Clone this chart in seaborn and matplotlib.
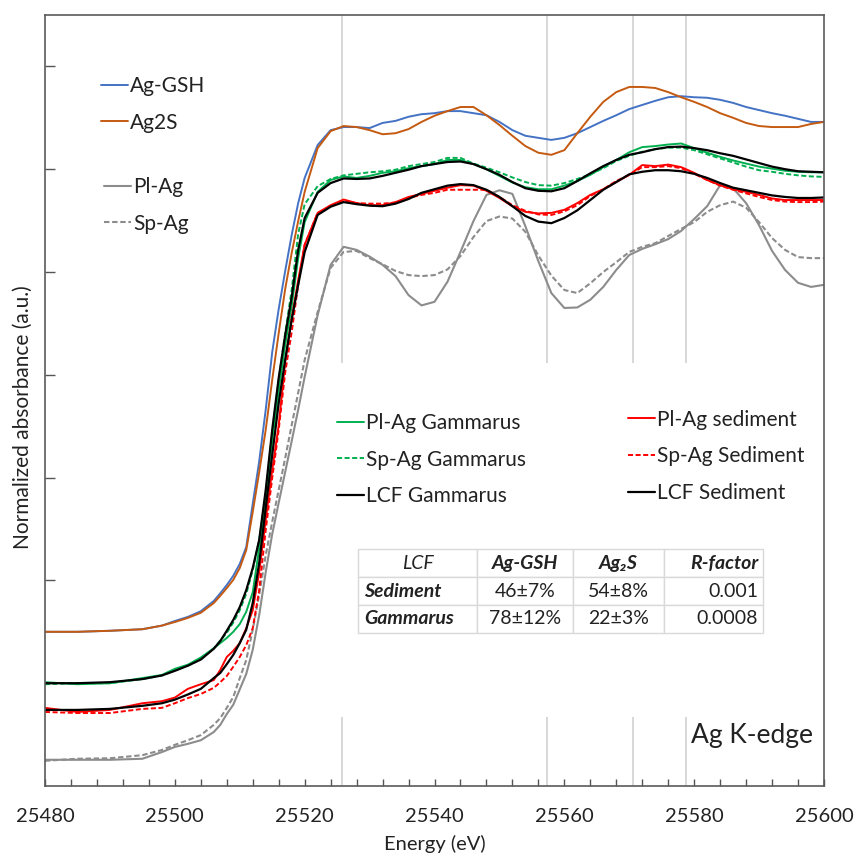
import pandas as pd
import seaborn as sns
import matplotlib.pyplot as plt
from matplotlib.lines import Line2D
from matplotlib.ticker import MultipleLocator

sns.set_style('ticks')
plt.rcParams['font.family'] = ['Lato', 'DejaVu Sans']

# energy grid (eV)
energy = [25480, 25485, 25490, 25495, 25498, 25500, 25502, 25504, 25506, 25507,
          25508, 25509, 25510, 25511,
          25512, 25513, 25514, 25515, 25516, 25517, 25518, 25519, 25520, 25522,
          25524, 25526, 25528, 25530, 25532, 25534, 25536, 25538, 25540, 25542,
          25544, 25546, 25548, 25550, 25552, 25554, 25556, 25558, 25560, 25562,
          25564, 25566, 25568, 25570, 25572, 25574, 25576, 25578, 25580, 25582,
          25584, 25586, 25588, 25590, 25592, 25594, 25596, 25598, 25600]

# references
ag_gsh = [0.300, 0.300, 0.302, 0.305, 0.312, 0.321, 0.329, 0.340, 0.360, 0.375,
          0.391, 0.409, 0.432, 0.465,
          0.549, 0.632, 0.732, 0.844, 0.928, 1.002, 1.072, 1.134, 1.183, 1.247,
          1.276, 1.282, 1.282, 1.280, 1.290, 1.294, 1.302, 1.307, 1.309, 1.313,
          1.313, 1.309, 1.305, 1.292, 1.276, 1.265, 1.261, 1.257, 1.261, 1.270,
          1.282, 1.294, 1.305, 1.317, 1.325, 1.333, 1.340, 1.342, 1.340, 1.339,
          1.335, 1.329, 1.321, 1.315, 1.309, 1.304, 1.298, 1.292, 1.292]
ag2s = [0.300, 0.300, 0.302, 0.305, 0.312, 0.319, 0.327, 0.337, 0.356, 0.370,
        0.385, 0.401, 0.424, 0.459,
        0.533, 0.611, 0.693, 0.790, 0.881, 0.967, 1.037, 1.099, 1.156, 1.241,
        1.274, 1.284, 1.282, 1.276, 1.268, 1.270, 1.278, 1.292, 1.304, 1.313,
        1.321, 1.321, 1.305, 1.286, 1.265, 1.245, 1.232, 1.228, 1.237, 1.270,
        1.302, 1.331, 1.350, 1.360, 1.360, 1.358, 1.350, 1.340, 1.331, 1.321,
        1.309, 1.300, 1.290, 1.284, 1.282, 1.282, 1.282, 1.288, 1.292]
pl_ag = [0.051, 0.051, 0.051, 0.053, 0.066, 0.076, 0.082, 0.089, 0.105, 0.119,
         0.140, 0.158, 0.188, 0.218,
         0.265, 0.333, 0.416, 0.490, 0.551, 0.611, 0.671, 0.732, 0.796, 0.916,
         1.014, 1.049, 1.043, 1.030, 1.014, 0.992, 0.955, 0.935, 0.942, 0.981,
         1.039, 1.099, 1.150, 1.159, 1.152, 1.089, 1.021, 0.959, 0.930, 0.931,
         0.946, 0.971, 1.004, 1.033, 1.045, 1.054, 1.064, 1.080, 1.103, 1.128,
         1.169, 1.163, 1.134, 1.091, 1.041, 1.004, 0.979, 0.971, 0.975]
sp_ag = [0.049, 0.053, 0.054, 0.060, 0.070, 0.080, 0.089, 0.099, 0.119, 0.132,
         0.152, 0.173, 0.210, 0.245,
         0.304, 0.372, 0.449, 0.514, 0.576, 0.638, 0.702, 0.765, 0.829, 0.922,
         1.008, 1.039, 1.041, 1.027, 1.015, 1.002, 0.994, 0.992, 0.994, 1.005,
         1.031, 1.068, 1.099, 1.108, 1.104, 1.078, 1.032, 0.993, 0.965, 0.959,
         0.978, 1.000, 1.019, 1.039, 1.049, 1.056, 1.070, 1.084, 1.097, 1.117,
         1.130, 1.137, 1.125, 1.097, 1.066, 1.043, 1.029, 1.027, 1.027]

# gammarus samples + fit
pl_ag_gam = [0.202, 0.198, 0.200, 0.210, 0.216, 0.228, 0.236, 0.250, 0.268, 0.278,
             0.288, 0.300, 0.315, 0.339,
             0.377, 0.463, 0.551, 0.673, 0.770, 0.858, 0.934, 1.027, 1.097, 1.156,
             1.179, 1.186, 1.183, 1.187, 1.193, 1.196, 1.202, 1.206, 1.210, 1.218,
             1.218, 1.210, 1.200, 1.187, 1.174, 1.165, 1.161, 1.161, 1.168, 1.177,
             1.189, 1.204, 1.218, 1.233, 1.243, 1.245, 1.248, 1.250, 1.241, 1.232,
             1.224, 1.217, 1.211, 1.205, 1.201, 1.197, 1.195, 1.194, 1.194]
sp_ag_gam = [0.198, 0.200, 0.200, 0.208, 0.215, 0.226, 0.234, 0.247, 0.268, 0.283,
             0.298, 0.318, 0.342, 0.374,
             0.420, 0.479, 0.566, 0.689, 0.790, 0.881, 0.965, 1.074, 1.132, 1.167,
             1.181, 1.188, 1.191, 1.194, 1.196, 1.199, 1.206, 1.210, 1.214, 1.222,
             1.222, 1.211, 1.203, 1.194, 1.184, 1.175, 1.169, 1.168, 1.173, 1.181,
             1.190, 1.202, 1.216, 1.226, 1.234, 1.239, 1.242, 1.242, 1.237, 1.229,
             1.221, 1.213, 1.205, 1.198, 1.195, 1.191, 1.188, 1.186, 1.185]
lcf_gam = [0.200, 0.200, 0.202, 0.208, 0.215, 0.224, 0.234, 0.246, 0.267, 0.282,
           0.302, 0.323, 0.348, 0.381,
           0.424, 0.479, 0.576, 0.693, 0.794, 0.877, 0.951, 1.043, 1.105, 1.154,
           1.173, 1.182, 1.181, 1.182, 1.187, 1.193, 1.199, 1.206, 1.210, 1.214,
           1.215, 1.210, 1.200, 1.189, 1.175, 1.163, 1.158, 1.157, 1.163, 1.177,
           1.192, 1.206, 1.218, 1.228, 1.233, 1.239, 1.243, 1.244, 1.241, 1.237,
           1.231, 1.226, 1.219, 1.212, 1.205, 1.200, 1.196, 1.195, 1.194]

# sediment samples + fit
pl_ag_sed = [0.152, 0.144, 0.148, 0.161, 0.165, 0.172, 0.189, 0.198, 0.206, 0.226,
             0.251, 0.263, 0.278, 0.307,
             0.342, 0.416, 0.518, 0.615, 0.702, 0.825, 0.910, 0.984, 1.053, 1.115,
             1.130, 1.141, 1.134, 1.130, 1.130, 1.136, 1.146, 1.152, 1.158, 1.164,
             1.169, 1.168, 1.158, 1.144, 1.128, 1.117, 1.114, 1.115, 1.121, 1.134,
             1.150, 1.161, 1.175, 1.189, 1.208, 1.206, 1.209, 1.204, 1.193, 1.179,
             1.169, 1.161, 1.156, 1.150, 1.143, 1.140, 1.140, 1.140, 1.140]
sp_ag_sed = [0.144, 0.142, 0.142, 0.150, 0.152, 0.161, 0.171, 0.179, 0.191, 0.202,
             0.214, 0.232, 0.251, 0.274,
             0.307, 0.381, 0.498, 0.599, 0.693, 0.805, 0.883, 0.975, 1.053, 1.115,
             1.128, 1.139, 1.134, 1.133, 1.133, 1.135, 1.144, 1.150, 1.154, 1.160,
             1.160, 1.160, 1.160, 1.146, 1.130, 1.119, 1.112, 1.111, 1.118, 1.130,
             1.148, 1.161, 1.177, 1.189, 1.204, 1.204, 1.206, 1.202, 1.191, 1.179,
             1.168, 1.160, 1.153, 1.146, 1.140, 1.137, 1.136, 1.136, 1.137]
lcf_sed = [0.148, 0.148, 0.150, 0.156, 0.161, 0.168, 0.178, 0.189, 0.210, 0.220,
           0.237, 0.255, 0.278, 0.304,
           0.356, 0.434, 0.541, 0.644, 0.745, 0.829, 0.907, 0.975, 1.039, 1.111,
           1.127, 1.136, 1.132, 1.129, 1.128, 1.133, 1.142, 1.154, 1.161, 1.168,
           1.171, 1.169, 1.160, 1.146, 1.128, 1.109, 1.098, 1.095, 1.105, 1.120,
           1.140, 1.160, 1.175, 1.190, 1.195, 1.198, 1.198, 1.196, 1.191, 1.183,
           1.173, 1.164, 1.159, 1.154, 1.149, 1.146, 1.144, 1.144, 1.145]

feature_lines = [25525.8, 25557.3, 25570.6, 25578.7]

table_text = [['LCF', 'Ag-GSH', 'Ag\u2082S', 'R-factor'],
              ['Sediment', '46\u00b17%', '54\u00b18%', '0.001'],
              ['Gammarus', '78\u00b112%', '22\u00b13%', '0.0008']]

df = pd.DataFrame({'Energy': energy, 'Ag-GSH': ag_gsh, 'Ag2S': ag2s,
                   'Pl-Ag': pl_ag, 'Sp-Ag': sp_ag,
                   'Pl-Ag Gammarus': pl_ag_gam, 'Sp-Ag Gammarus': sp_ag_gam,
                   'LCF Gammarus': lcf_gam,
                   'Pl-Ag sediment': pl_ag_sed, 'Sp-Ag Sediment': sp_ag_sed,
                   'LCF Sediment': lcf_sed})

dash = (0, (2.6, 1.3))
styles = {
    'Ag-GSH': ('#4472C4', '-', 1.4),
    'Ag2S': ('#C55A11', '-', 1.4),
    'Pl-Ag': ('#8c8c8c', '-', 1.5),
    'Sp-Ag': ('#8c8c8c', dash, 1.5),
    'Pl-Ag Gammarus': ('#00B050', '-', 1.4),
    'Sp-Ag Gammarus': ('#00B050', dash, 1.4),
    'Pl-Ag sediment': ('#FF0000', '-', 1.4),
    'Sp-Ag Sediment': ('#FF0000', dash, 1.4),
    'LCF Sediment': ('#000000', '-', 1.6),
    'LCF Gammarus': ('#000000', '-', 1.6),
}

fig = plt.figure(figsize=(8.55, 8.56), dpi=100)
ax = fig.add_axes([45 / 855, 70 / 856, 779 / 855, 771 / 856])

# feature lines (broken where the legends / table sit)
ax.vlines(feature_lines, 0.823, 1.5, color='#d4d4d4', lw=1.3, zorder=0)
ax.vlines(feature_lines, 0, 0.134, color='#d4d4d4', lw=1.3, zorder=0)

for col, (c, ls, lw) in styles.items():
    sns.lineplot(data=df, x='Energy', y=col, color=c, linestyle=ls, linewidth=lw,
                 ax=ax, estimator=None, sort=False, legend=False)

ax.set_xlim(25480, 25600)
ax.set_ylim(0, 1.5)
ax.set_xticks([25480, 25500, 25520, 25540, 25560, 25580, 25600])
ax.xaxis.set_minor_locator(MultipleLocator(4))
ax.set_yticks([0.2, 0.4, 0.6, 0.8, 1.0, 1.2, 1.4])
ax.tick_params(axis='x', which='both', direction='in', length=5, width=1,
               color='#555555', labelsize=14.5, labelcolor='#222222', pad=16)
ax.tick_params(axis='y', direction='in', length=7, width=1, color='#555555',
               labelleft=False)
for sp in ax.spines.values():
    sp.set_color('#5a5a5a')
    sp.set_linewidth(1.2)

ax.set_xlabel('Energy (eV)', fontsize=14.5, color='#222222', va='top')
ax.xaxis.set_label_coords(0.5, -0.063)
ax.set_ylabel('Normalized absorbance (a.u.)', fontsize=15, color='#222222')
ax.yaxis.set_label_coords(-0.015, 0.479)


def handles(names):
    return [Line2D([], [], color=styles[n][0], linestyle=styles[n][1],
                   lw=styles[n][2], label=n) for n in names]


leg_kw = dict(loc='upper left', frameon=False, fontsize=15, handlelength=1.3,
              handletextpad=0.1, labelspacing=0.8, borderpad=0,
              borderaxespad=0, labelcolor='#222222')
legends = [
    (['Ag-GSH', 'Ag2S'], (0.072, 0.921)),
    (['Pl-Ag', 'Sp-Ag'], (0.076, 0.790)),
    (['Pl-Ag Gammarus', 'Sp-Ag Gammarus', 'LCF Gammarus'], (0.375, 0.484)),
    (['Pl-Ag sediment', 'Sp-Ag Sediment', 'LCF Sediment'], (0.748, 0.488)),
]
for names, anchor in legends:
    leg = ax.legend(handles=handles(names), bbox_to_anchor=anchor, **leg_kw)
    ax.add_artist(leg)
ax.legend_ = None

tbl = ax.table(cellText=table_text, cellLoc='center',
               colWidths=[0.294, 0.237, 0.225, 0.244],
               bbox=[0.4018, 0.1988, 0.5199, 0.1082])
tbl.auto_set_font_size(False)
tbl.set_fontsize(14)
for (r, c), cell in tbl.get_celld().items():
    cell.set_edgecolor('#d9d9d9')
    cell.set_linewidth(1.0)
    cell.set_facecolor('white')
    cell.PAD = 0.05
    txt = cell.get_text()
    txt.set_color('#222222')
    if c == 3:
        cell._loc = 'right'
        txt.set_ha('right')
    if r > 0 and c == 0:
        cell._loc = 'left'
        txt.set_ha('left')
    if r == 0 or c == 0:
        txt.set_style('italic')
        if not (r == 0 and c == 0):
            txt.set_weight('bold')

ax.text(0.829, 0.0562, 'Ag K-edge', transform=ax.transAxes, fontsize=19,
        ha='left', va='baseline', color='#222222')

fig.savefig('out.png', dpi=100)
